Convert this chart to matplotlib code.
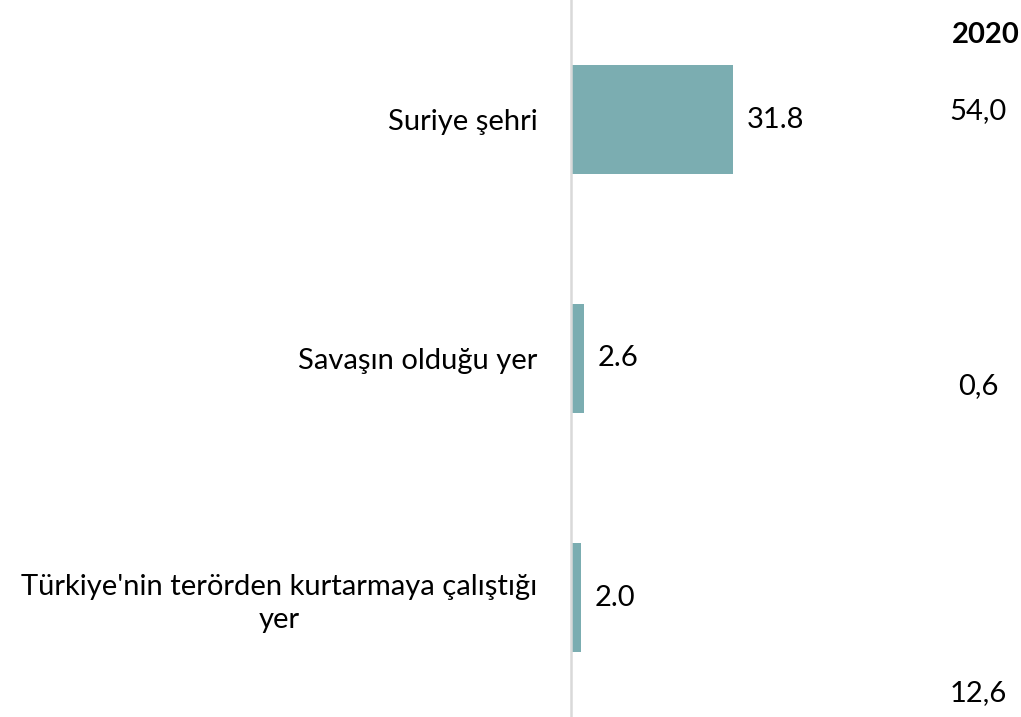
import matplotlib.pyplot as plt

plt.rcParams["font.family"] = ["Lato", "DejaVu Sans"]

categories = ["Suriye şehri", "Savaşın olduğu yer",
              "Türkiye'nin terörden kurtarmaya çalıştığı\nyer"]
values = [31.8, 2.6, 2.0]
side_year = "2020"
side_values = ["54,0", "0,6", "12,6"]
side_y = [0.845, 0.462, 0.033]

bar_color = "#7BADB1"

fig = plt.figure(figsize=(10.21, 7.17), dpi=100)
ax = fig.add_axes([571 / 1021, 0, 450 / 1021, 1])

y = range(len(categories))
ax.barh(y, values, height=0.46, color=bar_color)
ax.set_ylim(2.5, -0.5)
ax.set_xlim(0, 88.4)

for yi, v in zip(y, values):
    ax.annotate(f"{v:.1f}", xy=(v, yi), xytext=(10, 0), textcoords="offset points",
                ha="left", va="center", fontsize=21, color="black")

ax.set_yticks(list(y))
ax.set_yticklabels(categories, fontsize=21, multialignment="center", linespacing=1.35)
ax.tick_params(axis="y", length=0, pad=24)
ax.set_xticks([])

for s in ["top", "right", "bottom"]:
    ax.spines[s].set_visible(False)
ax.spines["left"].set_color("#D9D9D9")
ax.spines["left"].set_linewidth(1.8)

fig.text(0.965, 1 - 35 / 717, side_year, ha="center", va="center",
         fontsize=21, fontweight="bold")
for txt, yy in zip(side_values, side_y):
    fig.text(0.958, yy, txt, ha="center", va="center", fontsize=21)

fig.savefig("out.png", dpi=100)
